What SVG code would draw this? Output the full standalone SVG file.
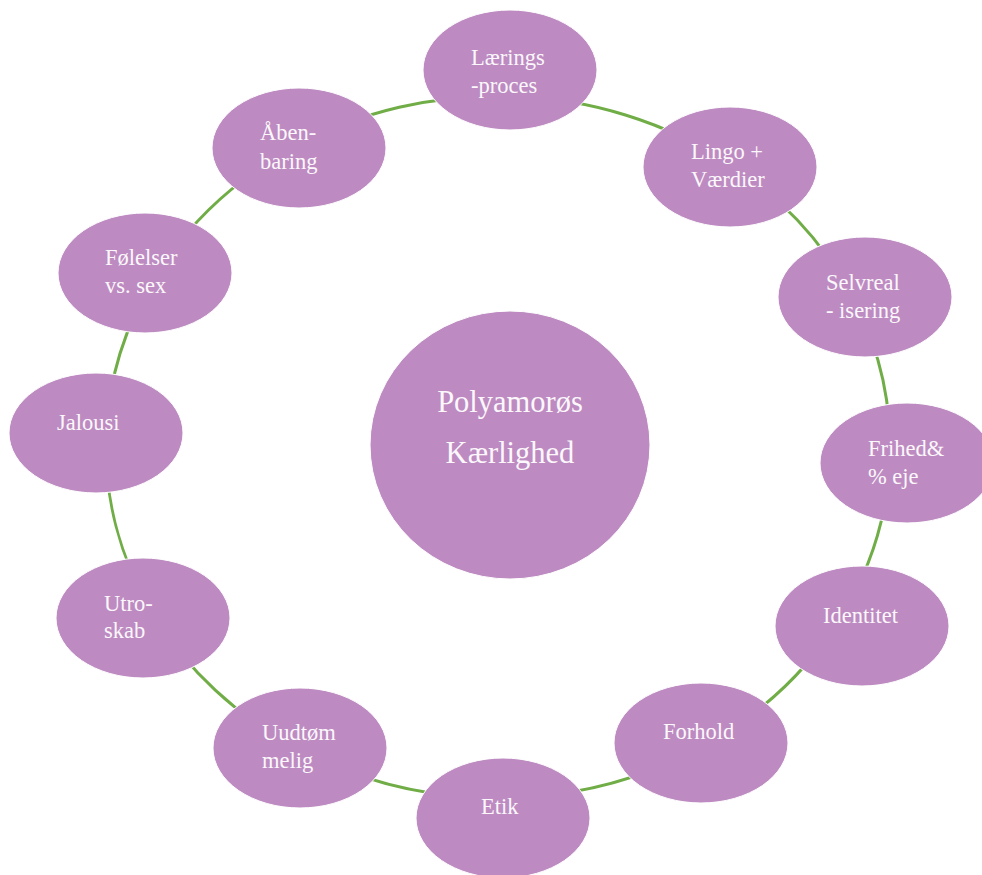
<svg xmlns="http://www.w3.org/2000/svg" width="982" height="875" viewBox="0 0 982 875">
<style>
.n{fill:#bd8bc1;stroke:#ffffff;stroke-width:1}
.t{font-family:"Liberation Serif","Times New Roman",serif;font-size:22.5px;fill:#fbf7fb}
.big{font-family:"Liberation Serif","Times New Roman",serif;font-size:30.5px;fill:#fbf7fb;text-anchor:middle}
.c{fill:none;stroke:#70ad47;stroke-width:3}
</style>
<rect width="982" height="875" fill="#ffffff"/>
<g id="connectors">
<path class="c" d="M508.9,96.1 A392,351 0 0 1 731.7,165.2"/>
<path class="c" d="M731.7,165.2 A392,351 0 0 1 854.7,301.4"/>
<path class="c" d="M854.7,301.4 A392,351 0 0 1 889.6,462.3"/>
<path class="c" d="M889.6,462.3 A392,351 0 0 1 841.5,616.1"/>
<path class="c" d="M841.5,616.1 A392,351 0 0 1 703.4,746.0"/>
<path class="c" d="M703.4,746.0 A392,351 0 0 1 502.8,798.0"/>
<path class="c" d="M502.8,798.0 A392,351 0 0 1 299.1,749.4"/>
<path class="c" d="M299.1,749.4 A392,351 0 0 1 152.8,613.4"/>
<path class="c" d="M152.8,613.4 A392,351 0 0 1 106.3,433.5"/>
<path class="c" d="M106.3,433.5 A392,351 0 0 1 154.5,277.9"/>
<path class="c" d="M154.5,277.9 A392,351 0 0 1 297.3,145.5"/>
<path class="c" d="M297.3,145.5 A392,351 0 0 1 508.9,96.1"/>
</g>
<g id="center">
<ellipse class="n" cx="510" cy="445" rx="140" ry="134"/>
<text class="big" x="510" y="412">Polyamorøs</text>
<text class="big" x="510" y="463">Kærlighed</text>
</g>
<g id="n1">
<ellipse class="n" cx="510" cy="70" rx="87" ry="60"/>
<text class="t" x="471" y="65">Lærings</text>
<text class="t" x="471" y="93">-proces</text>
</g>
<g id="n2">
<ellipse class="n" cx="730" cy="167" rx="87" ry="60"/>
<text class="t" x="691" y="159">Lingo +</text>
<text class="t" x="691" y="187">Værdier</text>
</g>
<g id="n3">
<ellipse class="n" cx="865" cy="297" rx="87" ry="60"/>
<text class="t" x="826" y="290">Selvreal</text>
<text class="t" x="826" y="318">- isering</text>
</g>
<g id="n4">
<ellipse class="n" cx="907" cy="463" rx="87" ry="60"/>
<text class="t" x="868" y="456">Frihed&amp;</text>
<text class="t" x="868" y="484">% eje</text>
</g>
<g id="n5">
<ellipse class="n" cx="862" cy="626" rx="87" ry="60"/>
<text class="t" x="823" y="623">Identitet</text>
</g>
<g id="n6">
<ellipse class="n" cx="701" cy="743" rx="87" ry="60"/>
<text class="t" x="663" y="739">Forhold</text>
</g>
<g id="n7">
<ellipse class="n" cx="503" cy="818" rx="87" ry="60"/>
<text class="t" x="481" y="814">Etik</text>
</g>
<g id="n8">
<ellipse class="n" cx="300" cy="748" rx="87" ry="60"/>
<text class="t" x="262" y="740">Uudtøm</text>
<text class="t" x="262" y="768">melig</text>
</g>
<g id="n9">
<ellipse class="n" cx="143" cy="618" rx="87" ry="60"/>
<text class="t" x="104" y="611">Utro-</text>
<text class="t" x="104" y="638">skab</text>
</g>
<g id="n10">
<ellipse class="n" cx="96" cy="433" rx="87" ry="60"/>
<text class="t" x="57" y="430">Jalousi</text>
</g>
<g id="n11">
<ellipse class="n" cx="145" cy="273" rx="87" ry="60"/>
<text class="t" x="105" y="265">Følelser</text>
<text class="t" x="105" y="293">vs. sex</text>
</g>
<g id="n12">
<ellipse class="n" cx="299" cy="148" rx="87" ry="60"/>
<text class="t" x="260" y="140">Åben-</text>
<text class="t" x="260" y="169">baring</text>
</g>
</svg>
